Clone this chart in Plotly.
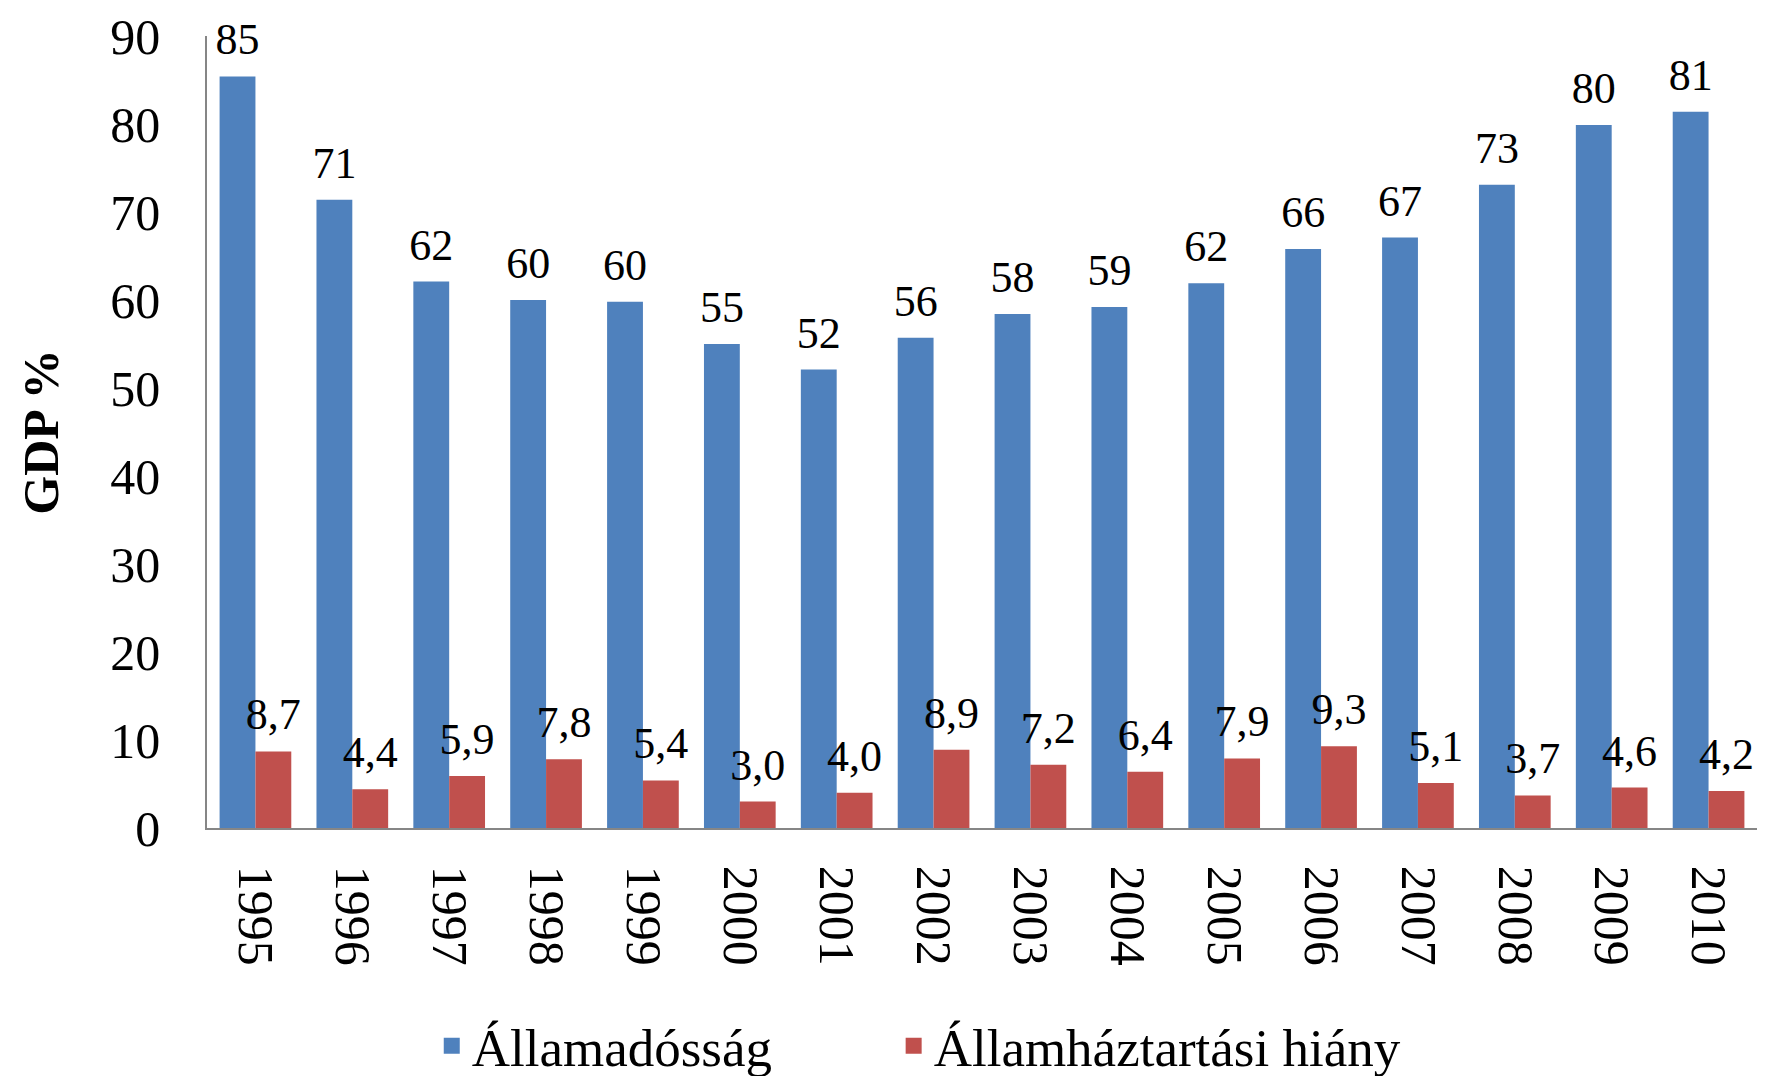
import plotly.graph_objects as go

years = ["1995", "1996", "1997", "1998", "1999", "2000", "2001", "2002",
         "2003", "2004", "2005", "2006", "2007", "2008", "2009", "2010"]
debt = [85.4, 71.4, 62.1, 60.0, 59.8, 55.0, 52.1, 55.7,
        58.4, 59.2, 61.9, 65.8, 67.1, 73.1, 79.9, 81.4]
deficit = [8.7, 4.4, 5.9, 7.8, 5.4, 3.0, 4.0, 8.9,
           7.2, 6.4, 7.9, 9.3, 5.1, 3.7, 4.6, 4.2]
series_names = ["Államadósság", "Államháztartási hiány"]
y_title = "GDP %"

BLUE = "#4F81BD"
RED = "#C0504D"
FONT = "Liberation Serif, Times New Roman, serif"

debt_text = [f"{v:.0f}" for v in debt]
deficit_text = [f"{v:.1f}".replace(".", ",") for v in deficit]

fig = go.Figure()
fig.add_trace(go.Bar(x=years, y=debt, name=series_names[0], marker_color=BLUE,
                     marker_line_width=0, offsetgroup="a", showlegend=False,
                     hoverinfo="skip"))
fig.add_trace(go.Bar(x=years, y=deficit, name=series_names[1], marker_color=RED,
                     marker_line_width=0, offsetgroup="b", showlegend=False,
                     hoverinfo="skip"))
# data labels
fig.add_trace(go.Scatter(x=years, y=debt, mode="markers+text", text=debt_text,
                         textposition="top center", offsetgroup="a",
                         marker=dict(size=16, color="rgba(0,0,0,0)"),
                         textfont=dict(family=FONT, size=44, color="black"),
                         showlegend=False, hoverinfo="skip", cliponaxis=False))
fig.add_trace(go.Scatter(x=years, y=deficit, mode="markers+text", text=deficit_text,
                         textposition="top center", offsetgroup="b",
                         marker=dict(size=16, color="rgba(0,0,0,0)"),
                         textfont=dict(family=FONT, size=44, color="black"),
                         showlegend=False, hoverinfo="skip", cliponaxis=False))
# legend proxies (one legend per entry to control spacing)
for nm, col, lg in zip(series_names, [BLUE, RED], ["legend", "legend2"]):
    fig.add_trace(go.Scatter(x=[None], y=[None], mode="markers", name=nm,
                             legend=lg,
                             marker=dict(symbol="square", size=30, color=col)))

leg_common = dict(orientation="h", xanchor="left", y=-0.275, yanchor="middle",
                  font=dict(size=53), itemsizing="trace", itemwidth=30,
                  bgcolor="rgba(0,0,0,0)")

fig.update_layout(
    width=1767, height=1076,
    barmode="group", bargap=0.26, bargroupgap=0,
    scattermode="group", scattergap=0.26,
    plot_bgcolor="white", paper_bgcolor="white",
    margin=dict(l=199, r=18, t=28, b=256, autoexpand=False),
    font=dict(family=FONT, size=50, color="black"),
    legend=dict(x=0.145, **leg_common),
    legend2=dict(x=0.443, **leg_common),
    xaxis=dict(type="category", tickangle=90, showline=True, linecolor="#868686",
               linewidth=1.5, ticks="outside", ticklen=26, automargin=False,
               tickcolor="rgba(0,0,0,0)", tickfont=dict(size=50), showgrid=False,
               ticklabeloverflow="allow"),
    yaxis=dict(range=[0, 90], dtick=10, showline=True, linecolor="#868686",
               linewidth=1.5, ticks="outside", ticklen=35, automargin=False,
               tickcolor="rgba(0,0,0,0)", tickfont=dict(size=50), showgrid=False,
               zeroline=False, ticklabeloverflow="allow",
               title=dict(text=f"<b>{y_title}</b>", font=dict(size=50), standoff=36)),
)

fig.write_html("out.html")
